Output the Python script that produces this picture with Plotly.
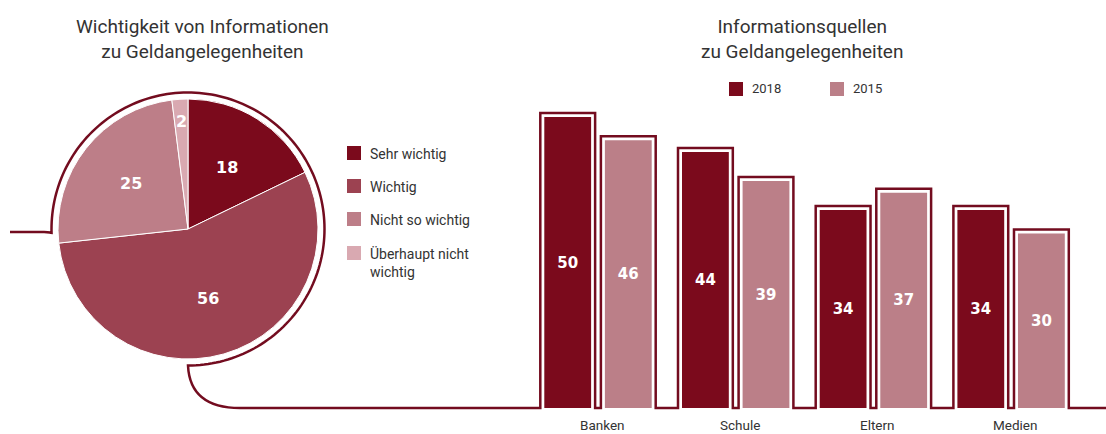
import math
import plotly.graph_objects as go

# ---------------- data ----------------
pie_labels = ["Sehr wichtig", "Wichtig", "Nicht so wichtig", "Überhaupt nicht<br>wichtig"]
pie_values = [18, 56, 25, 2]
pie_colors = ["#7b0a1c", "#9c4251", "#bd7e88", "#d9a9b1"]

categories = ["Banken", "Schule", "Eltern", "Medien"]
values_2018 = [50, 44, 34, 34]
values_2015 = [46, 39, 37, 30]
series_names = ["2018", "2015"]
series_colors = ["#7b0a1c", "#bb7f88"]

OUTLINE = "#730c1f"
TEXT = "#333333"
W, H = 1106, 434

# ---------------- geometry (pixels -> units) ----------------
PX_PER_CAT = 137.7
CAT0_PX = 598.0
PX_PER_VAL = 5.82
BASE_PX = 408.0
x0 = -CAT0_PX / PX_PER_CAT
x1 = (W - CAT0_PX) / PX_PER_CAT
y0 = -(H - BASE_PX) / PX_PER_VAL
y1 = BASE_PX / PX_PER_VAL

BAR_W = 0.34
BAR_SHIFT = 0.22
PADX = 4 / PX_PER_CAT
PADY = 4 / PX_PER_VAL


def px(x, y):
    return x / W, 1 - y / H


fig = go.Figure()

# ---------------- pie ----------------
PIE_CX, PIE_CY, PIE_R = 188.0, 229.0, 130.0
fig.add_trace(go.Pie(
    labels=pie_labels, values=pie_values, sort=False, direction="clockwise",
    rotation=0, marker=dict(colors=pie_colors, line=dict(color="white", width=1)),
    textinfo="none", showlegend=False, hoverinfo="label+value",
    domain=dict(x=[(PIE_CX - PIE_R) / W, (PIE_CX + PIE_R) / W],
                y=[1 - (PIE_CY + PIE_R) / H, 1 - (PIE_CY - PIE_R) / H]),
))

# pie value labels positioned from cumulative angles
total = sum(pie_values)
cum = 0
for v in pie_values:
    mid = (cum + v / 2) / total * 2 * math.pi
    cum += v
    frac = 0.56 if v > 5 else 0.83
    lx = PIE_CX + math.sin(mid) * PIE_R * frac
    ly = PIE_CY - math.cos(mid) * PIE_R * frac
    ax, ay = px(lx, ly)
    fig.add_annotation(x=ax, y=ay, xref="paper", yref="paper", text=f"<b>{v}</b>",
                       showarrow=False, xanchor="center", yanchor="middle",
                       font=dict(family="DejaVu Sans", size=16, color="white"))

# pie outline ring + connectors
R_OUT = 136.5
path = f"M {px(10,232)[0]},{px(10,232)[1]} L {px(44,232)[0]},{px(44,232)[1]}"
q1 = px(52, 232)
start_phi = math.pi + math.asin((224 - PIE_CY) / R_OUT)
sx = PIE_CX + R_OUT * math.cos(start_phi)
sy = PIE_CY + R_OUT * math.sin(start_phi)
e1 = px(sx, sy)
path += f" Q {q1[0]},{q1[1]} {e1[0]},{e1[1]}"
end_phi = 2.5 * math.pi
n = 160
for i in range(1, n + 1):
    phi = start_phi + (end_phi - start_phi) * i / n
    p = px(PIE_CX + R_OUT * math.cos(phi), PIE_CY + R_OUT * math.sin(phi))
    path += f" L {p[0]},{p[1]}"
HOOK_END_X = PIE_CX + 52
qc = px(PIE_CX + 2, BASE_PX)
qe = px(HOOK_END_X, BASE_PX)
path += f" Q {qc[0]},{qc[1]} {qe[0]},{qe[1]}"
fig.add_shape(type="path", path=path, xref="paper", yref="paper",
              line=dict(color=OUTLINE, width=2.5))

# ---------------- bars ----------------
xs = list(range(len(categories)))
for vals, name, col, sgn in [(values_2018, series_names[0], series_colors[0], -1),
                              (values_2015, series_names[1], series_colors[1], 1)]:
    fig.add_trace(go.Bar(
        x=xs, y=vals, name=name, width=BAR_W, offset=sgn * BAR_SHIFT - BAR_W / 2,
        marker=dict(color=col, line=dict(width=0)),
        text=vals, texttemplate="<b>%{y}</b>", textposition="inside",
        insidetextanchor="middle", textangle=0,
        textfont=dict(family="DejaVu Sans", size=15, color="white"),
        showlegend=False, xaxis="x", yaxis="y",
    ))

# skyline outline around bars, computed from data
bars = []
for i in xs:
    bars.append((i - BAR_SHIFT - BAR_W / 2, i - BAR_SHIFT + BAR_W / 2, values_2018[i]))
    bars.append((i + BAR_SHIFT - BAR_W / 2, i + BAR_SHIFT + BAR_W / 2, values_2015[i]))
bars.sort()
ox = [x0 + HOOK_END_X / PX_PER_CAT]
oy = [0]
for l, r, v in bars:
    ox += [l - PADX, l - PADX, r + PADX, r + PADX]
    oy += [0, v + PADY, v + PADY, 0]
ox.append(x1)
oy.append(0)
fig.add_trace(go.Scatter(x=ox, y=oy, mode="lines", line=dict(color=OUTLINE, width=2.5),
                         hoverinfo="skip", showlegend=False, xaxis="x", yaxis="y"))

# category labels
for i, c in enumerate(categories):
    fig.add_annotation(x=i + 0.03, y=1 - 424.5 / H, xref="x", yref="paper", text=c,
                       showarrow=False, xanchor="center", yanchor="middle",
                       font=dict(family="Roboto", size=13.5, color=TEXT))

# ---------------- titles ----------------
for cx, txt in [(202, "Wichtigkeit von Informationen<br>zu Geldangelegenheiten"),
                (802, "Informationsquellen<br>zu Geldangelegenheiten")]:
    fig.add_annotation(x=cx / W, y=1 - 13 / H, xref="paper", yref="paper", text=txt,
                       showarrow=False, xanchor="center", yanchor="top", align="center",
                       font=dict(family="Roboto", size=19, color=TEXT))

# ---------------- legends ----------------
leg_y = [153, 186, 219, 253]
for lab, col, ly in zip(pie_labels, pie_colors, leg_y):
    a = px(347, ly - 7)
    b = px(361, ly + 7)
    fig.add_shape(type="rect", xref="paper", yref="paper", x0=a[0], x1=b[0], y0=b[1], y1=a[1],
                  fillcolor=col, line=dict(width=0))
    t = px(368, ly - 9)
    fig.add_annotation(x=t[0], y=t[1], xref="paper", yref="paper", text=lab, showarrow=False,
                       xanchor="left", yanchor="top", align="left",
                       font=dict(family="Roboto", size=14, color=TEXT))

for name, col, lx in zip(series_names, series_colors, [729, 830]):
    a = px(lx, 82)
    b = px(lx + 14, 96)
    fig.add_shape(type="rect", xref="paper", yref="paper", x0=a[0], x1=b[0], y0=b[1], y1=a[1],
                  fillcolor=col, line=dict(width=0))
    t = px(lx + 21, 89)
    fig.add_annotation(x=t[0], y=t[1], xref="paper", yref="paper", text=name, showarrow=False,
                       xanchor="left", yanchor="middle",
                       font=dict(family="Roboto", size=13, color=TEXT))

fig.update_layout(
    width=W, height=H, margin=dict(l=0, r=0, t=0, b=0),
    paper_bgcolor="white", plot_bgcolor="white", barmode="overlay",
    xaxis=dict(range=[x0, x1], domain=[0, 1], visible=False, fixedrange=True),
    yaxis=dict(range=[y0, y1], domain=[0, 1], visible=False, fixedrange=True),
)

fig.write_html("out.html")
